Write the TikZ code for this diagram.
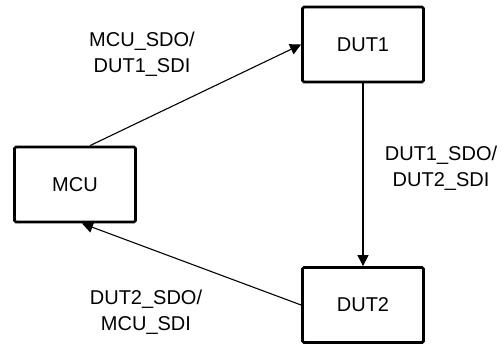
\documentclass[tikz,border=0pt]{standalone}
\usepackage{fontspec}
\setmainfont{Liberation Sans}
\usetikzlibrary{arrows.meta}
\begin{document}
\begin{tikzpicture}[x=1bp,y=-1bp,
  blk/.style={draw=black,line width=2.8bp,rounded corners=1.5bp,inner sep=0pt,
    minimum width=121bp,minimum height=75bp,font=\fontsize{20bp}{26bp}\selectfont},
  lbl/.style={align=center,inner sep=0pt,font=\fontsize{20bp}{26bp}\selectfont},
  conn/.style={line width=1.1bp,-{Triangle[length=11bp,width=11bp]}}]
\useasboundingbox (0,0) rectangle (502,345);
\node[blk] (MCU) at (75,184.5) {MCU};
\node[blk] (DUT1) at (363,44.5) {DUT1};
\node[blk] (DUT2) at (363,305) {DUT2};
\node[lbl] (L1) at (142,54) {MCU\_SDO/\\DUT1\_SDI};
\node[lbl] (L2) at (441,168) {DUT1\_SDO/\\DUT2\_SDI};
\node[lbl] (L3) at (146,312.5) {DUT2\_SDO/\\MCU\_SDI};
\draw[conn] ([xshift=15bp]MCU.north) -- (DUT1.west);
\draw[conn] (DUT1.south) -- (DUT2.north);
\draw[conn] (DUT2.west) -- ([xshift=7bp]MCU.south);
\end{tikzpicture}
\end{document}
